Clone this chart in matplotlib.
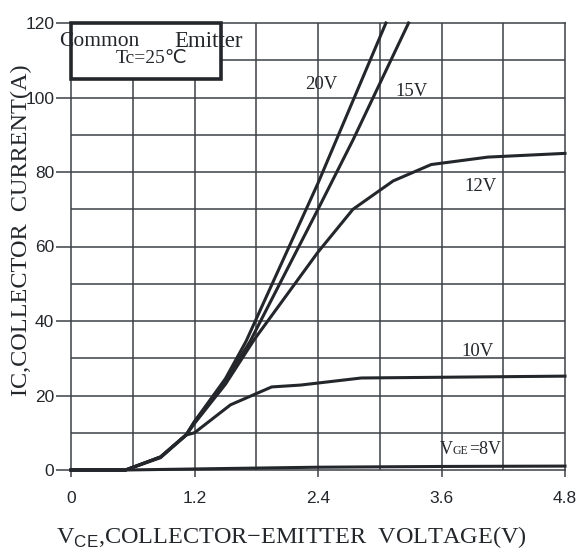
import matplotlib
matplotlib.use("Agg")
import matplotlib.pyplot as plt
from matplotlib.patches import Rectangle
from matplotlib.offsetbox import TextArea, HPacker, AnnotationBbox


# Output characteristics, collector current (A) against V_CE (V)
vce_20v = [0.0, 0.53, 0.87, 1.12, 1.2, 1.5, 1.7, 2.4, 3.06]
ic_20v = [0.0, 0.0, 3.5, 9.5, 13.0, 24.5, 34.5, 77.0, 120.0]

vce_15v = [0.0, 0.53, 0.87, 1.12, 1.2, 1.5, 1.74, 2.4, 2.74, 3.28]
ic_15v = [0.0, 0.0, 3.5, 9.5, 13.0, 24.0, 34.5, 70.0, 88.6, 120.0]

vce_12v = [0.0, 0.53, 0.87, 1.12, 1.2, 1.5, 1.78, 2.4, 2.74, 3.13, 3.5, 4.05, 4.8]
ic_12v = [0.0, 0.0, 3.3, 9.4, 12.5, 23.0, 35.0, 58.5, 70.0, 77.6, 82.0, 84.0, 85.0]

vce_10v = [0.0, 0.53, 0.87, 1.12, 1.2, 1.55, 1.95, 2.23, 2.82, 4.8]
ic_10v = [0.0, 0.0, 3.5, 9.4, 10.0, 17.5, 22.3, 22.8, 24.7, 25.2]

vce_8v = [0.0, 0.53, 1.5, 2.4, 3.6, 4.8]
ic_8v = [0.0, 0.0, 0.4, 0.75, 0.95, 1.05]

curve_labels = ["20V", "15V", "12V", "10V"]
curve_label_pos = [(2.43, 103.4), (3.31, 101.5), (3.98, 76.0), (3.95, 31.7)]

x_ticks = [0, 1.2, 2.4, 3.6, 4.8]
x_tick_labels = ["0", "1.2", "2.4", "3.6", "4.8"]
y_ticks = [0, 20, 40, 60, 80, 100, 120]

_INK = "#23272b"
_GRID = "#3c4146"
_SERIF = ["Liberation Serif", "DejaVu Sans", "Noto Sans CJK SC"]

plt.rcParams["mathtext.fontset"] = "custom"
plt.rcParams["mathtext.rm"] = "Liberation Serif"
plt.rcParams["mathtext.sf"] = "Liberation Sans"

fig = plt.figure(figsize=(5.86, 5.54), dpi=100)
ax = fig.add_axes([71 / 586, 84 / 554, 494 / 586, 447 / 554])
ax.set_xlim(0, 4.8)
ax.set_ylim(0, 120)

# grid every 0.6 V and every 10 A
for gx in [0.6 * i for i in range(1, 8)]:
    ax.axvline(gx, color=_GRID, lw=1.1, zorder=1)
for gy in range(10, 120, 10):
    ax.axhline(gy, color=_GRID, lw=1.1, zorder=1)
for sp in ax.spines.values():
    sp.set_color(_GRID)
    sp.set_linewidth(1.1)

for xs, ys in [(vce_20v, ic_20v), (vce_15v, ic_15v), (vce_12v, ic_12v),
               (vce_10v, ic_10v), (vce_8v, ic_8v)]:
    ax.plot(xs, ys, color=_INK, lw=2.2, zorder=3, clip_on=False,
            solid_joinstyle="miter")

for text, (tx, ty) in zip(curve_labels, curve_label_pos):
    ax.text(tx, ty, text, family=_SERIF, fontsize=13.5, color=_INK,
            ha="center", va="center", zorder=4)

# V_GE label with small caps subscript sitting on the baseline
vge = HPacker(children=[TextArea("V", textprops=dict(family=_SERIF, fontsize=13, color=_INK)),
                        TextArea("GE", textprops=dict(family=_SERIF, fontsize=8.5, color=_INK)),
                        TextArea("=8V", textprops=dict(family=_SERIF, fontsize=13, color=_INK))],
              align="baseline", pad=0, sep=0)
ax.add_artist(AnnotationBbox(vge, (3.88, 5.6), frameon=False, zorder=4))

# condition box in the upper left corner
ax.add_patch(Rectangle((0, 105), 1.46, 15, facecolor="white",
                       edgecolor=_INK, lw=2.6, zorder=5, clip_on=False))
ax.text(-0.117, 115.0, "Common", family=_SERIF, fontsize=15.5, color=_INK,
        ha="left", va="center", zorder=6)
ax.text(1.0, 115.0, "Emitter", family=_SERIF, fontsize=16.5, color=_INK,
        ha="left", va="center", zorder=6)
ax.text(0.787, 110.4, "Tc=25℃", family=_SERIF, fontsize=14, color=_INK,
        ha="center", va="center", zorder=6)

ax.set_xticks(x_ticks)
ax.set_xticklabels(x_tick_labels)
ax.set_yticks(y_ticks)
ax.tick_params(axis="x", direction="out", length=5, width=1.1, pad=10,
               color=_GRID, labelsize=12.5, labelcolor=_INK)
ax.tick_params(axis="y", direction="out", length=11, width=1.1, pad=1,
               color=_GRID, labelsize=12.5, labelcolor=_INK)
for lab in ax.get_xticklabels() + ax.get_yticklabels():
    lab.set_family("Liberation Sans")

ax.set_xlabel(r"V$_{\mathsf{CE}}$,COLLECTOR−EMITTER  VOLTAGE(V)",
              family=_SERIF, fontsize=17.5, color=_INK)
ax.xaxis.set_label_coords(0.447, -0.122)
ax.set_ylabel("IC,COLLECTOR  CURRENT(A)", family=_SERIF, fontsize=17.5,
              color=_INK)
ax.yaxis.set_label_coords(-0.079, 0.537)

fig.savefig("out.png", dpi=100)
